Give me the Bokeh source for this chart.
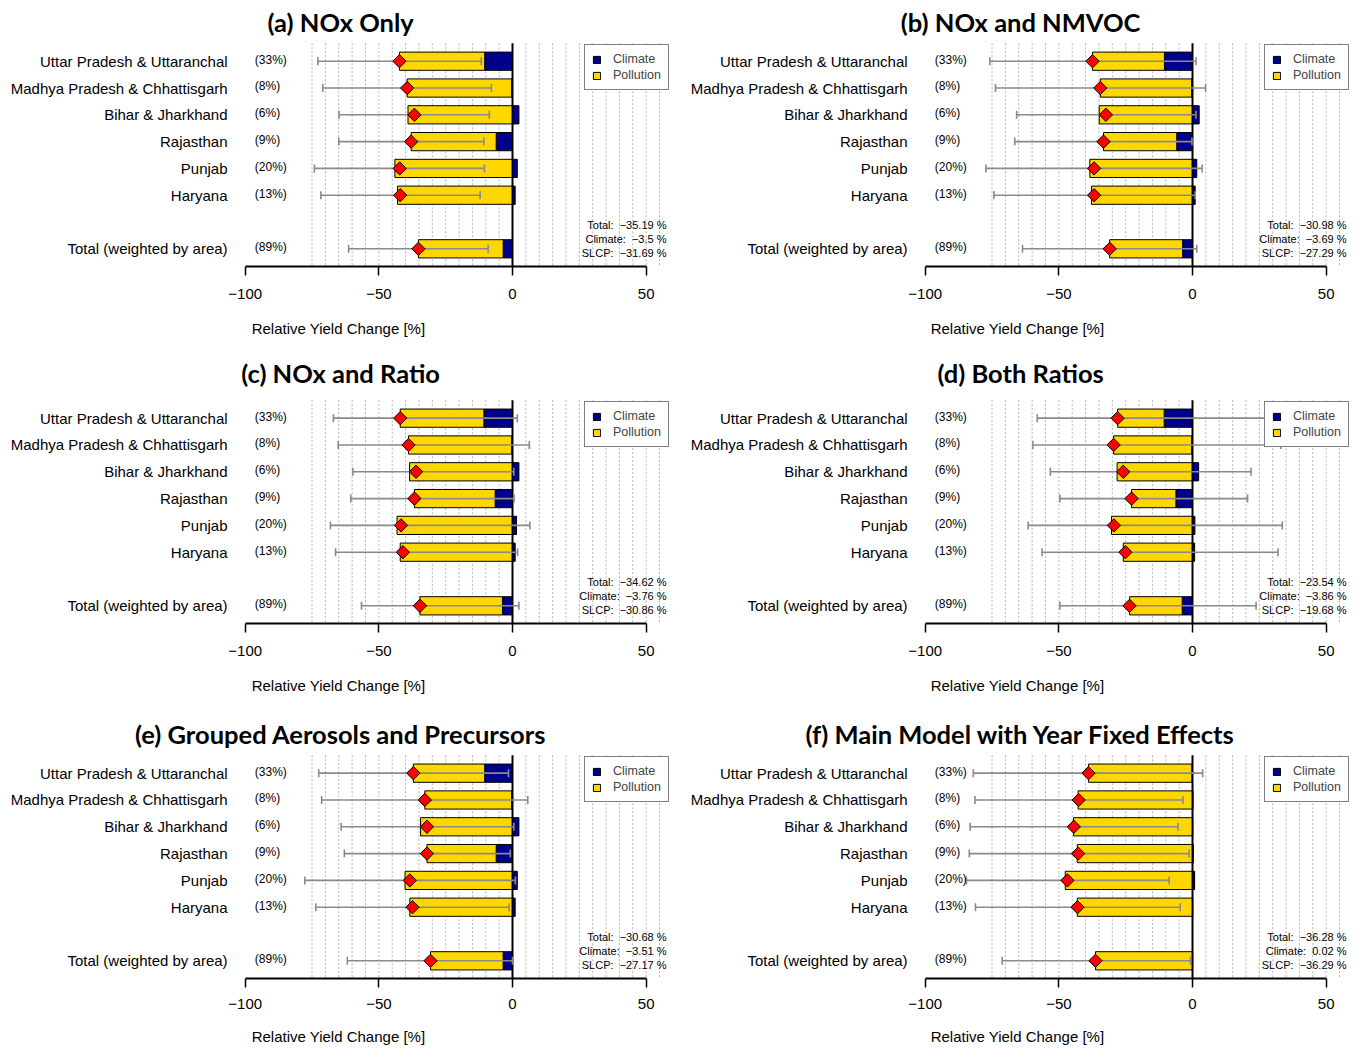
import math
from bokeh.plotting import figure
from bokeh.layouts import gridplot
from bokeh.models import Range1d, FixedTicker, Legend, LegendItem
from bokeh.core.properties import value
from bokeh.embed import file_html
from bokeh.resources import INLINE

# ---------------- data ----------------
regions = ["Uttar Pradesh & Uttaranchal", "Madhya Pradesh & Chhattisgarh",
           "Bihar & Jharkhand", "Rajasthan", "Punjab", "Haryana",
           "Total (weighted by area)"]
area_share = ["(33%)", "(8%)", "(6%)", "(9%)", "(20%)", "(13%)", "(89%)"]

titles = ["(a) NOx Only", "(b) NOx and NMVOC", "(c) NOx and Ratio",
          "(d) Both Ratios", "(e) Grouped Aerosols and Precursors",
          "(f) Main Model with Year Fixed Effects"]

climate_a = [-10.4, -0.3, 2.4, -6.1, 1.8, 1.0, -3.5]
pollution_a = [-31.9, -39.1, -39.1, -31.8, -44.0, -43.0, -31.69]
ci_low_a = [-72.8, -71.0, -64.9, -65.0, -74.1, -71.7, -61.3]
ci_high_a = [-11.7, -7.9, -8.7, -10.7, -10.5, -12.1, -9.1]
summary_a = ["\u221235.19 %", "\u22123.5 %", "\u221231.69 %"]

climate_b = [-10.5, -0.3, 2.5, -5.9, 1.6, 1.0, -3.69]
pollution_b = [-26.9, -34.2, -34.9, -27.4, -38.4, -37.8, -27.29]
ci_low_b = [-75.8, -73.7, -65.8, -66.5, -77.3, -74.3, -63.6]
ci_high_b = [1.3, 4.9, 1.3, -0.2, 3.6, 1.0, 1.6]
summary_b = ["\u221230.98 %", "\u22123.69 %", "\u221227.29 %"]

climate_c = [-10.7, -0.3, 2.4, -6.5, 1.5, 1.0, -3.76]
pollution_c = [-31.3, -38.6, -38.5, -30.2, -43.2, -42.0, -30.86]
ci_low_c = [-67.0, -65.2, -59.7, -60.5, -68.1, -66.2, -56.5]
ci_high_c = [1.8, 6.3, 0.5, 0.6, 6.5, 1.9, 2.4]
summary_c = ["\u221234.62 %", "\u22123.76 %", "\u221230.86 %"]

climate_d = [-10.6, -0.3, 2.3, -6.2, 0.9, 0.8, -3.86]
pollution_d = [-17.4, -29.2, -28.2, -16.6, -30.3, -25.9, -19.68]
ci_low_d = [-58.1, -59.7, -53.2, -49.6, -61.5, -56.3, -49.6]
ci_high_d = [34.0, 33.0, 21.9, 20.6, 33.6, 32.0, 23.8]
summary_d = ["\u221223.54 %", "\u22123.86 %", "\u221219.68 %"]

climate_e = [-10.4, -0.3, 2.4, -6.1, 1.8, 1.0, -3.51]
pollution_e = [-26.7, -32.5, -34.4, -25.9, -40.2, -38.4, -27.17]
ci_low_e = [-72.5, -71.4, -64.1, -62.9, -77.7, -73.6, -61.8]
ci_high_e = [-1.5, 5.7, 0.5, -0.8, 1.1, -1.3, 0.0]
summary_e = ["\u221230.68 %", "\u22123.51 %", "\u221227.17 %"]

climate_f = [-0.2, 0.2, 0.1, 0.3, 0.8, 0.1, 0.02]
pollution_f = [-38.7, -42.8, -44.5, -43.1, -47.6, -43.1, -36.29]
ci_low_f = [-82.0, -81.4, -83.2, -83.5, -84.6, -81.2, -71.2]
ci_high_f = [3.8, -3.6, -5.4, -1.3, -8.7, -4.6, -0.8]
summary_f = ["\u221236.28 %", "0.02 %", "\u221236.29 %"]

summary_labels = ["Total:", "Climate:", "SLCP:"]
legend_labels = ["Climate", "Pollution"]
x_ticks = [-100, -50, 0, 50]
x_tick_labels = ["\u2212100", "\u221250", "0", "50"]
axis_title = "Relative Yield Change [%]"

# ---------------- styling / layout ----------------
PX = 2.673      # px per percent
RW = 26.9       # px per row
NAVY = "#00008B"
GOLD = "#FFD700"
FONT = "Liberation Sans"
ROW_BOTTOM = 8.66
ROW_TOP = 0.33
NBSP2 = "\u00a0\u00a0"


def panel(title, climate, pollution, lo, hi, summary, W, H, zero_px, title_row,
          B, std1, std2):
    fh = H - B
    y_top = ROW_BOTTOM - fh / RW
    p = figure(width=W, height=H,
               x_range=Range1d(-zero_px / PX, (W - zero_px) / PX),
               y_range=Range1d(ROW_BOTTOM, y_top),
               output_backend="svg", toolbar_location=None,
               y_axis_location=None,
               min_border_left=0, min_border_right=0,
               min_border_top=0, min_border_bottom=B,
               outline_line_color=None, background_fill_color="white",
               border_fill_color="white")
    p.grid.visible = False

    n = len(regions)
    pos = [i + 1 if i < n - 1 else i + 2 for i in range(n)]
    total = [c + q for c, q in zip(climate, pollution)]

    # dotted guide lines
    gx = [g for g in range(-75, 60, 5) if g != 0]
    p.segment(x0=gx, y0=[ROW_TOP] * len(gx), x1=gx, y1=[ROW_BOTTOM] * len(gx),
              line_color="#b4b4b4", line_width=1, line_dash="2 2")

    clim_left = [min(c, 0) for c in climate]
    clim_right = [max(c, 0) for c in climate]
    pol_right = [min(c, 0) for c in climate]
    pol_left = [min(c, 0) + q for c, q in zip(climate, pollution)]

    r_clim = p.hbar(y=pos, left=clim_left, right=clim_right, height=0.68,
                    fill_color=NAVY, line_color="black", line_width=1)
    r_pol = p.hbar(y=pos, left=pol_left, right=pol_right, height=0.68,
                   fill_color=GOLD, line_color="black", line_width=1)

    p.segment(x0=[0], y0=[ROW_TOP], x1=[0], y1=[ROW_BOTTOM],
              line_color="black", line_width=2)

    # error bars
    p.segment(x0=lo, y0=pos, x1=hi, y1=pos, line_color="#8a8a8a", line_width=1.6)
    p.scatter(x=lo + hi, y=pos + pos, marker="dash", angle=math.pi / 2, size=8,
              line_color="#8a8a8a", line_width=1.6)

    # totals
    p.scatter(x=total, y=pos, marker="square", angle=math.pi / 4, size=9.4,
              fill_color="#FF0000", line_color="black", line_width=1)

    # texts
    p.text(x=[-106.6] * n, y=pos, text=regions, text_align="right",
           text_baseline="middle", text_font=value(FONT),
           text_font_size="15px", text_color="black")
    p.text(x=[-96.4] * n, y=[v - 0.06 for v in pos], text=area_share,
           text_align="left", text_baseline="middle", text_font=value(FONT),
           text_font_size="12px", text_color="black")
    sy = [7.13, 7.62, 8.14]
    lines = [lab + NBSP2 + val for lab, val in zip(summary_labels, summary)]
    p.text(x=[57.6] * 3, y=sy, text=lines, text_align="right",
           text_baseline="middle", text_font=value(FONT),
           text_font_size="11px", text_color="black")
    p.text(x=[-64.3], y=[title_row], text=[title], text_align="center",
           text_baseline="middle", text_font=value("Lato"),
           text_font_style="bold", text_font_size="25.5px", text_color="black")

    # axis
    ax = p.xaxis[0]
    ax.ticker = FixedTicker(ticks=x_ticks)
    ax.major_label_overrides = {t: s for t, s in zip(x_ticks, x_tick_labels)}
    ax.bounds = (x_ticks[0], x_ticks[-1])
    ax.minor_tick_line_color = None
    ax.major_tick_in = 0
    ax.major_tick_out = 9
    ax.major_tick_line_width = 1.5
    ax.major_tick_line_color = "black"
    ax.axis_line_width = 2
    ax.axis_line_color = "black"
    ax.major_label_standoff = std1
    ax.major_label_text_font = FONT
    ax.major_label_text_font_size = "15px"
    ax.major_label_text_color = "black"
    ax.axis_label = axis_title
    ax.axis_label_text_font = FONT
    ax.axis_label_text_font_size = "15px"
    ax.axis_label_text_font_style = "normal"
    ax.axis_label_text_color = "black"
    ax.axis_label_standoff = std2

    # legend
    loc_x = zero_px + 26.9 * PX
    loc_y = (ROW_BOTTOM - 2.12) * RW
    leg = Legend(items=[LegendItem(label=legend_labels[0], renderers=[r_clim]),
                        LegendItem(label=legend_labels[1], renderers=[r_pol])],
                 location=(loc_x, loc_y), border_line_color="black",
                 border_line_width=1, background_fill_color="white",
                 background_fill_alpha=1.0, label_text_font=FONT,
                 label_text_font_size="12.5px", glyph_width=9, glyph_height=9,
                 label_standoff=12, padding=7, spacing=2, label_height=12,
                 margin=0)
    p.add_layout(leg)
    return p


data = [
    (climate_a, pollution_a, ci_low_a, ci_high_a, summary_a),
    (climate_b, pollution_b, ci_low_b, ci_high_b, summary_b),
    (climate_c, pollution_c, ci_low_c, ci_high_c, summary_c),
    (climate_d, pollution_d, ci_low_d, ci_high_d, summary_d),
    (climate_e, pollution_e, ci_low_e, ci_high_e, summary_e),
    (climate_f, pollution_f, ci_low_f, ci_high_f, summary_f),
]
heights = [339, 357, 351]
borders = [72, 72, 68]
standoffs = [(13, 18), (13, 18), (11, 16)]
title_rows = [-0.46, -0.70, -0.46]
widths = [676, 682]
zero_pxs = [512, 516]

figs = []
for k, (cl, po, lo, hi, sm) in enumerate(data):
    r, c = divmod(k, 2)
    figs.append(panel(titles[k], cl, po, lo, hi, sm, widths[c], heights[r],
                      zero_pxs[c], title_rows[r], borders[r],
                      standoffs[r][0], standoffs[r][1]))

grid = gridplot([[figs[0], figs[1]], [figs[2], figs[3]], [figs[4], figs[5]]],
                toolbar_location=None)

open("out.html", "w").write(file_html(grid, INLINE))
